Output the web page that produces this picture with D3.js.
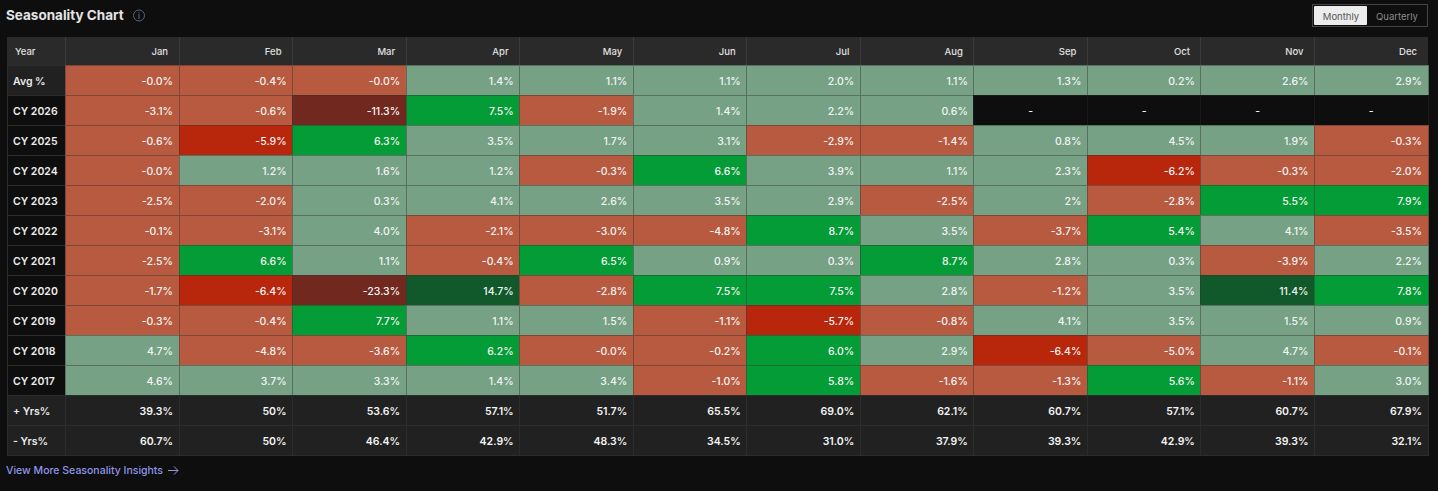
<!DOCTYPE html>
<html lang="en">
<head>
<meta charset="utf-8">
<title>Seasonality Chart</title>
<script src="https://d3js.org/d3.v7.min.js"></script>
<style>
html, body { margin: 0; background: #0e0e0f; overflow: hidden; }
text { font-family: Inter, "Noto Sans", sans-serif; }
</style>
</head>
<body>
<div id="chart"></div>
<script>
var width = 1438;
var height = 491;

var months = ["Jan", "Feb", "Mar", "Apr", "May", "Jun", "Jul", "Aug", "Sep", "Oct", "Nov", "Dec"];
var rowLabels = ["Avg %", "CY 2026", "CY 2025", "CY 2024", "CY 2023", "CY 2022", "CY 2021", "CY 2020", "CY 2019", "CY 2018", "CY 2017", "+ Yrs%", "- Yrs%"];

var avg = ["-0.0%", "-0.4%", "-0.0%", "1.4%", "1.1%", "1.1%", "2.0%", "1.1%", "1.3%", "0.2%", "2.6%", "2.9%"];
var cy2026 = ["-3.1%", "-0.6%", "-11.3%", "7.5%", "-1.9%", "1.4%", "2.2%", "0.6%", "-", "-", "-", "-"];
var cy2025 = ["-0.6%", "-5.9%", "6.3%", "3.5%", "1.7%", "3.1%", "-2.9%", "-1.4%", "0.8%", "4.5%", "1.9%", "-0.3%"];
var cy2024 = ["-0.0%", "1.2%", "1.6%", "1.2%", "-0.3%", "6.6%", "3.9%", "1.1%", "2.3%", "-6.2%", "-0.3%", "-2.0%"];
var cy2023 = ["-2.5%", "-2.0%", "0.3%", "4.1%", "2.6%", "3.5%", "2.9%", "-2.5%", "2%", "-2.8%", "5.5%", "7.9%"];
var cy2022 = ["-0.1%", "-3.1%", "4.0%", "-2.1%", "-3.0%", "-4.8%", "8.7%", "3.5%", "-3.7%", "5.4%", "4.1%", "-3.5%"];
var cy2021 = ["-2.5%", "6.6%", "1.1%", "-0.4%", "6.5%", "0.9%", "0.3%", "8.7%", "2.8%", "0.3%", "-3.9%", "2.2%"];
var cy2020 = ["-1.7%", "-6.4%", "-23.3%", "14.7%", "-2.8%", "7.5%", "7.5%", "2.8%", "-1.2%", "3.5%", "11.4%", "7.8%"];
var cy2019 = ["-0.3%", "-0.4%", "7.7%", "1.1%", "1.5%", "-1.1%", "-5.7%", "-0.8%", "4.1%", "3.5%", "1.5%", "0.9%"];
var cy2018 = ["4.7%", "-4.8%", "-3.6%", "6.2%", "-0.0%", "-0.2%", "6.0%", "2.9%", "-6.4%", "-5.0%", "4.7%", "-0.1%"];
var cy2017 = ["4.6%", "3.7%", "3.3%", "1.4%", "3.4%", "-1.0%", "5.8%", "-1.6%", "-1.3%", "5.6%", "-1.1%", "3.0%"];
var plusYrs = ["39.3%", "50%", "53.6%", "57.1%", "51.7%", "65.5%", "69.0%", "62.1%", "60.7%", "57.1%", "60.7%", "67.9%"];
var minusYrs = ["60.7%", "50%", "46.4%", "42.9%", "48.3%", "34.5%", "31.0%", "37.9%", "39.3%", "42.9%", "39.3%", "32.1%"];

var rows = [avg, cy2026, cy2025, cy2024, cy2023, cy2022, cy2021, cy2020, cy2019, cy2018, cy2017, plusYrs, minusYrs];

var svg = d3.select("#chart").append("svg")
	.attr("width", width)
	.attr("height", height)
	.style("display", "block");

var x = d3.scaleBand().domain(months).range([65.5, 1428]);
var y = d3.scaleBand().domain(rowLabels).range([65.5, 455.5]);
var headerTop = 37;

// green above zero, red below, darker the further out
var posColor = d3.scaleThreshold().domain([5, 10]).range(["#76a185", "#049c36", "#11592b"]);
var negColor = d3.scaleThreshold().domain([5.01, 10]).range(["#b85a40", "#b8260c", "#70281f"]);

function cellColor(s, r) {
	if (r == "+ Yrs%" || r == "- Yrs%") return "#212121";
	if (s == "-") return "#0e0e0f";
	var v = parseFloat(s);
	return s[0] == "-" ? negColor(Math.abs(v)) : posColor(v);
}

function cellStroke(s, r) {
	if (r == "+ Yrs%" || r == "- Yrs%") return "#2c2c2c";
	if (s == "-") return "#1a1a1a";
	return d3.interpolateRgb(cellColor(s, r), "#333")(0.45);
}

// title
svg.append("text").attr("x", 6).attr("y", 20)
	.attr("fill", "#e4e4e4").attr("font-size", 13.5).attr("font-weight", 700)
	.text("Seasonality Chart");
var info = svg.append("g").attr("transform", "translate(139,15.5)");
info.append("circle").attr("r", 5.5).attr("fill", "none").attr("stroke", "#4d6a80");
info.append("text").attr("y", 3).attr("text-anchor", "middle").attr("fill", "#6d8ba0")
	.attr("font-size", 8).text("i");

// monthly / quarterly toggle
svg.append("rect").attr("x", 1312.5).attr("y", 4.5).attr("width", 115).attr("height", 22)
	.attr("fill", "none").attr("stroke", "#444");
svg.append("rect").attr("x", 1314).attr("y", 6).attr("width", 53).attr("height", 19)
	.attr("rx", 1).attr("fill", "#ececec");
svg.append("text").attr("x", 1341).attr("y", 19.5).attr("text-anchor", "middle")
	.attr("fill", "#555").attr("font-size", 9.5).text("Monthly");
svg.append("text").attr("x", 1397).attr("y", 19.5).attr("text-anchor", "middle")
	.attr("fill", "#8a8a8a").attr("font-size", 9.5).text("Quarterly");

// header row
svg.append("rect").attr("x", 7).attr("y", headerTop).attr("width", 1421).attr("height", 29).attr("fill", "#2a2a2a");
svg.append("text").attr("x", 15).attr("y", 55).attr("fill", "#e0e0e0")
	.attr("font-size", 9.5).attr("font-weight", 500).text("Year");
svg.selectAll(".month").data(months).enter().append("text")
	.attr("class", "month")
	.attr("x", function(d) { return x(d) + x.bandwidth() - 11; })
	.attr("y", 55)
	.attr("text-anchor", "end")
	.attr("fill", "#e0e0e0")
	.attr("font-size", 9.5)
	.attr("font-weight", 500)
	.text(function(d) { return d; });
svg.selectAll(".hsep").data(months).enter().append("line")
	.attr("class", "hsep")
	.attr("x1", function(d) { return x(d); }).attr("x2", function(d) { return x(d); })
	.attr("y1", headerTop).attr("y2", 66)
	.attr("stroke", "#3a3a3a")
	.attr("shape-rendering", "crispEdges");

// row labels
svg.selectAll(".rowbg").data(rowLabels).enter().append("rect")
	.attr("class", "rowbg")
	.attr("x", 7)
	.attr("y", function(d) { return y(d); })
	.attr("width", 58.5)
	.attr("height", y.bandwidth())
	.attr("fill", function(d) { return d[0] == "C" ? "#0e0e0f" : "#212121"; })
	.attr("stroke", "#2c2c2c")
	.attr("shape-rendering", "crispEdges");
svg.selectAll(".rowlabel").data(rowLabels).enter().append("text")
	.attr("class", "rowlabel")
	.attr("x", 13)
	.attr("y", function(d) { return y(d) + y.bandwidth() / 2 + 4; })
	.attr("fill", "#ececec")
	.attr("font-size", 10.5)
	.attr("font-weight", 600)
	.text(function(d) { return d; });

// cells
var cells = [];
rows.forEach(function(vals, i) {
	vals.forEach(function(s, j) {
		cells.push({ row: rowLabels[i], month: months[j], label: s });
	});
});

svg.selectAll(".cell").data(cells).enter().append("rect")
	.attr("class", "cell")
	.attr("x", function(d) { return x(d.month); })
	.attr("y", function(d) { return y(d.row); })
	.attr("width", x.bandwidth())
	.attr("height", y.bandwidth())
	.attr("fill", function(d) { return cellColor(d.label, d.row); })
	.attr("stroke", function(d) { return cellStroke(d.label, d.row); })
	.attr("shape-rendering", "crispEdges");

svg.selectAll(".val").data(cells).enter().append("text")
	.attr("class", "val")
	.attr("x", function(d) { return d.label == "-" ? x(d.month) + x.bandwidth() / 2 : x(d.month) + x.bandwidth() - 6; })
	.attr("y", function(d) { return y(d.row) + y.bandwidth() / 2 + 4; })
	.attr("text-anchor", function(d) { return d.label == "-" ? "middle" : "end"; })
	.attr("fill", "#f4f4f4")
	.attr("font-size", 10.5)
	.attr("font-weight", function(d) { return d.row == "+ Yrs%" || d.row == "- Yrs%" ? 600 : 500; })
	.text(function(d) { return d.label; });

// link below the table
svg.append("text").attr("x", 6).attr("y", 474)
	.attr("fill", "#8f95e6").attr("font-size", 10.5).attr("font-weight", 500)
	.text("View More Seasonality Insights");
svg.append("path").attr("d", "M168 470.5H178M174 466.5L178 470.5L174 474.5")
	.attr("fill", "none").attr("stroke", "#8f95e6");
</script>
</body>
</html>
